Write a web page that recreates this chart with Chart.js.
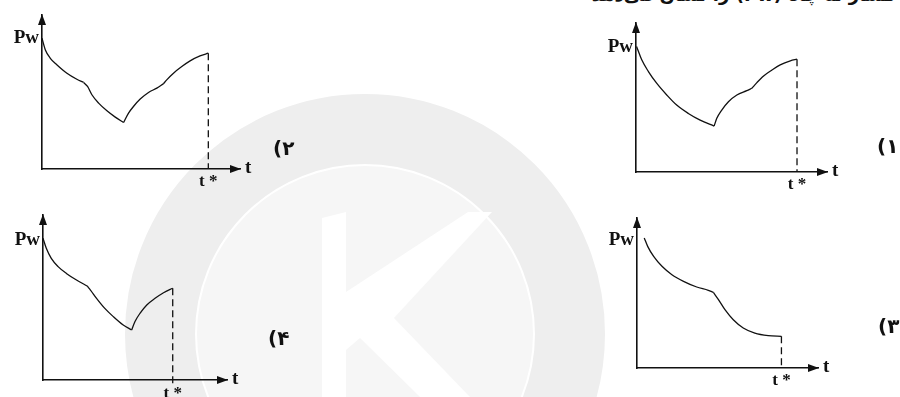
<!DOCTYPE html>
<html>
<head>
<meta charset="utf-8">
<script src="https://cdn.jsdelivr.net/npm/chart.js@4.4.1/dist/chart.umd.min.js"></script>
<style>
  html,body{margin:0;padding:0;background:#fff;}
  body{width:900px;height:397px;overflow:hidden;position:relative;}
  .wm{position:absolute;left:0;top:0;}
  .panel{position:absolute;}
  .q{position:absolute;right:4px;top:-15px;direction:rtl;font:bold 18px "DejaVu Sans";color:#111;white-space:nowrap;line-height:20px;}
</style>
</head>
<body>
<svg class="wm" width="900" height="397">
  <circle cx="365" cy="334" r="205" fill="none" stroke="#eeeeee" stroke-width="70"/>
  <circle cx="365" cy="334" r="168" fill="#f6f6f6"/>
  <polygon fill="#ffffff" points="322,218 346,212 346,292 468,212 492,212 394,318 470,397 420,397 360,338 346,350 346,397 322,397"/>
</svg>
<div class="q">فشار ته چاه (Pw) را نشان می‌دهد</div>
<div class="panel" style="left:560px;top:0px"><canvas id="c1" width="340" height="200"></canvas></div>
<div class="panel" style="left:0px;top:0px"><canvas id="c2" width="300" height="200"></canvas></div>
<div class="panel" style="left:560px;top:200px"><canvas id="c3" width="340" height="197"></canvas></div>
<div class="panel" style="left:0px;top:200px"><canvas id="c4" width="300" height="197"></canvas></div>
<script>
// ---- data (t and Pw in arbitrary units, axes 0..10) ----
const p1T  = [0.03,0.30,0.65,1.08,1.61,2.13,2.74,3.36,4.09,4.23,4.49,4.84,5.28,5.80,6.07,6.33,6.68,7.12,7.55,8.08,8.43];
const p1Pw = [8.43,7.53,6.74,5.96,5.17,4.49,3.93,3.48,3.08,3.60,4.16,4.72,5.17,5.46,5.62,6.00,6.45,6.85,7.19,7.46,7.57];
const p1Breaks = [8,14];
const p1TStar = 8.43;

const p2T  = [0,0.17,0.42,0.76,1.26,1.76,2.10,2.30,2.52,2.86,3.28,3.70,4.12,4.37,4.62,4.96,5.38,5.80,6.13,6.30,6.64,7.06,7.48,7.98,8.40];
const p2Pw = [8.49,7.73,7.19,6.76,6.22,5.83,5.62,5.36,4.82,4.28,3.78,3.37,3.02,3.63,4.06,4.54,4.97,5.25,5.53,5.79,6.22,6.65,7.02,7.34,7.52];
const p2Breaks = [6,12,18];
const p2TStar = 8.40;

const p3T  = [0.40,0.59,0.92,1.38,1.93,2.57,3.30,3.94,4.22,4.50,4.86,5.32,5.87,6.51,7.25,7.98];
const p3Pw = [8.67,8.11,7.44,6.78,6.22,5.78,5.40,5.18,5.04,4.56,3.89,3.22,2.67,2.33,2.16,2.11];
const p3Breaks = [8];
const p3TStar = 7.98;

const p4T  = [0,0.18,0.45,0.82,1.27,1.82,2.40,2.58,2.91,3.36,3.82,4.36,4.82,5.00,5.27,5.64,6.09,6.55,7.05];
const p4Pw = [8.59,7.98,7.37,6.87,6.46,6.06,5.70,5.45,4.95,4.34,3.84,3.33,3.03,3.54,4.04,4.55,4.95,5.29,5.56];
const p4Breaks = [6,12];
const p4TStar = 7.05;

const axisLabelY = 'Pw';
const axisLabelX = 't';
const tStarLabel = 't *';
const optionLabels = ['(۱', '(۲', '(۳', '(۴'];

// ---- drawing ----
const INK = '#111';
const decor = {
  id: 'decor',
  afterDraw(chart, args, o) {
    const ctx = chart.ctx, a = chart.chartArea, xs = chart.scales.x;
    ctx.save();
    ctx.fillStyle = INK;
    ctx.direction = 'ltr';
    // arrow heads
    ctx.beginPath();
    ctx.moveTo(a.right + 1, a.bottom);
    ctx.lineTo(a.right - 10, a.bottom - 4);
    ctx.lineTo(a.right - 10, a.bottom + 4);
    ctx.closePath(); ctx.fill();
    ctx.beginPath();
    ctx.moveTo(a.left, a.top - 1);
    ctx.lineTo(a.left - 4, a.top + 10);
    ctx.lineTo(a.left + 4, a.top + 10);
    ctx.closePath(); ctx.fill();
    // axis labels
    ctx.font = 'bold 19px "Liberation Serif"';
    ctx.textAlign = 'right'; ctx.textBaseline = 'alphabetic';
    ctx.fillText(axisLabelY, a.left - 3, a.top + o.pwDy);
    ctx.font = 'bold 19px "Liberation Serif"';
    ctx.textAlign = 'left'; ctx.textBaseline = 'middle';
    ctx.fillText(axisLabelX, a.right + 5, a.bottom - 1);
    ctx.font = 'bold 17px "Liberation Serif"';
    ctx.textAlign = 'center'; ctx.textBaseline = 'top';
    ctx.fillText(tStarLabel, xs.getPixelForValue(o.tStar), a.bottom + o.tsDy);
    // option number: parenthesis then Persian digit, drawn left to right
    ctx.font = 'bold 20px "DejaVu Sans"';
    ctx.textAlign = 'left'; ctx.textBaseline = 'middle';
    const chars = Array.from(o.label);
    let x = o.lx;
    for (const ch of chars) {
      ctx.fillText(ch, x, o.ly);
      x += ctx.measureText(ch).width;
    }
    ctx.restore();
  }
};

function segments(T, P, breaks) {
  const cuts = [0, ...breaks, T.length - 1];
  const out = [];
  for (let s = 0; s < cuts.length - 1; s++) {
    const pts = [];
    for (let i = cuts[s]; i <= cuts[s + 1]; i++) pts.push({x: T[i], y: P[i]});
    out.push({data: pts, borderColor: INK, borderWidth: 1.3, pointRadius: 0,
              cubicInterpolationMode: 'monotone', fill: false});
  }
  return out;
}

function makeChart(id, T, P, breaks, tStar, dashBottom, pad, dec) {
  const ds = segments(T, P, breaks);
  ds.push({data: [{x: tStar, y: P[P.length - 1]}, {x: tStar, y: dashBottom}],
           borderColor: INK, borderWidth: 1.3, borderDash: [7, 4], pointRadius: 0, fill: false});
  const axis = (extra) => Object.assign({
    type: 'linear', min: 0, max: 10,
    grid: {display: false, drawTicks: false},
    ticks: {display: false},
    border: {display: true, color: INK, width: 1.6}
  }, extra);
  return new Chart(document.getElementById(id), {
    type: 'line',
    data: {datasets: ds},
    options: {
      responsive: false, animation: false, events: [],
      layout: {padding: pad},
      clip: false,
      plugins: {legend: {display: false}, tooltip: {enabled: false}, decor: dec},
      scales: {x: axis({}), y: axis({})}
    },
    plugins: [decor]
  });
}

makeChart('c1', p1T, p1Pw, p1Breaks, p1TStar, 0,
  {left: 76, top: 23, right: 73, bottom: 28},
  {tStar: p1TStar, label: optionLabels[0], lx: 317, ly: 148, pwDy: 29, tsDy: 4});
makeChart('c2', p2T, p2Pw, p2Breaks, p2TStar, 0,
  {left: 42, top: 15, right: 60, bottom: 31},
  {tStar: p2TStar, label: optionLabels[1], lx: 273, ly: 150, pwDy: 28, tsDy: 4});
makeChart('c3', p3T, p3Pw, p3Breaks, p3TStar, 0,
  {left: 77, top: 18, right: 82, bottom: 29},
  {tStar: p3TStar, label: optionLabels[2], lx: 318, ly: 128, pwDy: 27, tsDy: 4});
makeChart('c4', p4T, p4Pw, p4Breaks, p4TStar, -0.3,
  {left: 43, top: 15, right: 73, bottom: 17},
  {tStar: p4TStar, label: optionLabels[3], lx: 268, ly: 140, pwDy: 30, tsDy: 5});
</script>
</body>
</html>
